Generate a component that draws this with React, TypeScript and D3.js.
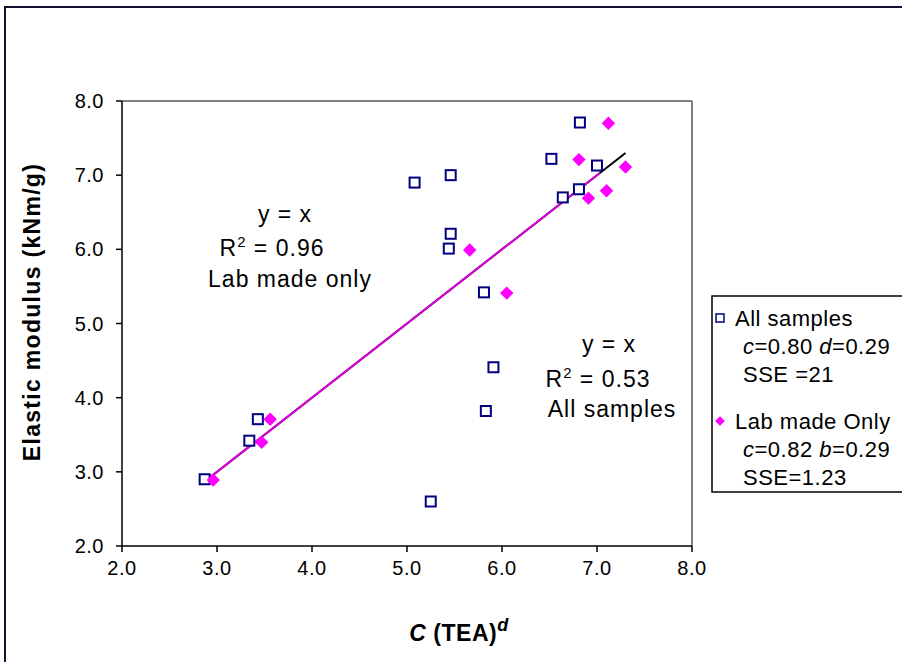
import React from "react";
import * as d3 from "d3";

const allX = [2.87, 3.34, 3.43, 5.08, 5.46, 5.46, 5.44, 5.81, 5.91, 5.83, 5.25, 6.52, 6.82, 7.0, 6.81, 6.64];
const allY = [2.90, 3.42, 3.71, 6.90, 7.00, 6.21, 6.01, 5.42, 4.41, 3.82, 2.60, 7.22, 7.71, 7.13, 6.81, 6.70];
const labX = [2.96, 3.47, 3.56, 5.66, 6.05, 6.91, 7.10, 6.81, 7.30, 7.12];
const labY = [2.89, 3.40, 3.71, 5.99, 5.41, 6.69, 6.79, 7.21, 7.11, 7.70];
const ticks = [2, 3, 4, 5, 6, 7, 8];
const allFitRange = [2.88, 7.30];
const labFitRange = [2.88, 7.03];

const W = 902;
const H = 662;
const FONT = "Liberation Sans, Arial, sans-serif";

export default function App() {
  const x = d3.scaleLinear().domain([2, 8]).range([122, 692]);
  const y = d3.scaleLinear().domain([2, 8]).range([546, 101]);
  const line = d3
    .line<number>()
    .x((d) => x(d))
    .y((d) => y(d));
  const diamond = d3.symbol().type(d3.symbolDiamond2).size(115)();

  return (
    <svg
      width={W}
      height={H}
      style={{ position: "absolute", left: 0, top: 0, background: "#fff" }}
      fontFamily={FONT}
    >
      <rect x={5} y={7} width={W + 10} height={H + 10} fill="#fff" stroke="#101030" strokeWidth={2} />

      {/* plot frame */}
      <line x1={x(2)} x2={x(8)} y1={y(8)} y2={y(8)} stroke="#808080" strokeWidth={2} />
      <line x1={x(8)} x2={x(8)} y1={y(8)} y2={y(2)} stroke="#808080" strokeWidth={2} />
      <line x1={x(2)} x2={x(8)} y1={y(2)} y2={y(2)} stroke="#000" strokeWidth={1.5} />
      <line x1={x(2)} x2={x(2)} y1={y(8)} y2={y(2)} stroke="#000" strokeWidth={1.5} />

      {ticks.map((t) => (
        <g key={"yt" + t}>
          <line x1={x(2) - 6} x2={x(2)} y1={y(t)} y2={y(t)} stroke="#000" strokeWidth={1.5} />
          <text x={104} y={y(t)} dy="0.35em" textAnchor="end" fontSize={20} letterSpacing={0.5}>
            {t.toFixed(1)}
          </text>
        </g>
      ))}
      {ticks.map((t) => (
        <g key={"xt" + t}>
          <line x1={x(t)} x2={x(t)} y1={y(2)} y2={y(2) + 6} stroke="#000" strokeWidth={1.5} />
          <text x={x(t)} y={y(2) + 29} textAnchor="middle" fontSize={20} letterSpacing={0.5}>
            {t.toFixed(1)}
          </text>
        </g>
      ))}

      {/* axis titles */}
      <text
        transform={`translate(40,312) rotate(-90)`}
        textAnchor="middle"
        fontSize={23}
        fontWeight="bold"
        letterSpacing={1.3}
      >
        Elastic modulus (kNm/g)
      </text>
      <text x={459} y={641} textAnchor="middle" fontSize={23} fontWeight="bold" letterSpacing={0.5}>
        <tspan fontStyle="italic">C</tspan>
        <tspan> (TEA)</tspan>
        <tspan fontStyle="italic" dy={-10} fontSize={18}>d</tspan>
      </text>

      {/* fit lines */}
      <path d={line(allFitRange) || ""} stroke="#000" strokeWidth={2} fill="none" />
      <path d={line(labFitRange) || ""} stroke="#E000E0" strokeWidth={2} fill="none" />

      {/* points */}
      {allX.map((v, i) => (
        <rect
          key={"a" + i}
          x={x(v) - 5}
          y={y(allY[i]) - 5}
          width={10}
          height={10}
          fill="#fff"
          stroke="#000080"
          strokeWidth={2}
        />
      ))}
      {labX.map((v, i) => (
        <path key={"l" + i} d={diamond || ""} transform={`translate(${x(v)},${y(labY[i])})`} fill="#FF00FF" />
      ))}

      {/* annotations */}
      <g fontSize={23} letterSpacing={1} textAnchor="middle">
        <text x={285} y={222}>y = x</text>
        <text x={272} y={256}>
          R<tspan dy={-9} fontSize={15}>2</tspan>
          <tspan dy={9}> = 0.96</tspan>
        </text>
        <text x={290} y={287}>Lab made only</text>
        <text x={609} y={352}>y = x</text>
        <text x={598} y={387}>
          R<tspan dy={-9} fontSize={15}>2</tspan>
          <tspan dy={9}> = 0.53</tspan>
        </text>
        <text x={612} y={417}>All samples</text>
      </g>

      {/* legend */}
      <rect x={712} y={296} width={220} height={196} fill="#fff" stroke="#000" strokeWidth={1.5} />
      <rect x={716} y={314} width={8} height={8} fill="#fff" stroke="#000080" strokeWidth={1.5} />
      <path d={d3.symbol().type(d3.symbolDiamond2).size(60)() || ""} transform="translate(720,421)" fill="#FF00FF" />
      <g fontSize={22} letterSpacing={0.5}>
        <text x={735} y={326}>All samples</text>
        <text x={743} y={354}>
          <tspan fontStyle="italic">c</tspan>=0.80 <tspan fontStyle="italic">d</tspan>=0.29
        </text>
        <text x={743} y={382}>SSE =21</text>
        <text x={735} y={429}>Lab made Only</text>
        <text x={743} y={457}>
          <tspan fontStyle="italic">c</tspan>=0.82 <tspan fontStyle="italic">b</tspan>=0.29
        </text>
        <text x={743} y={485}>SSE=1.23</text>
      </g>
    </svg>
  );
}
